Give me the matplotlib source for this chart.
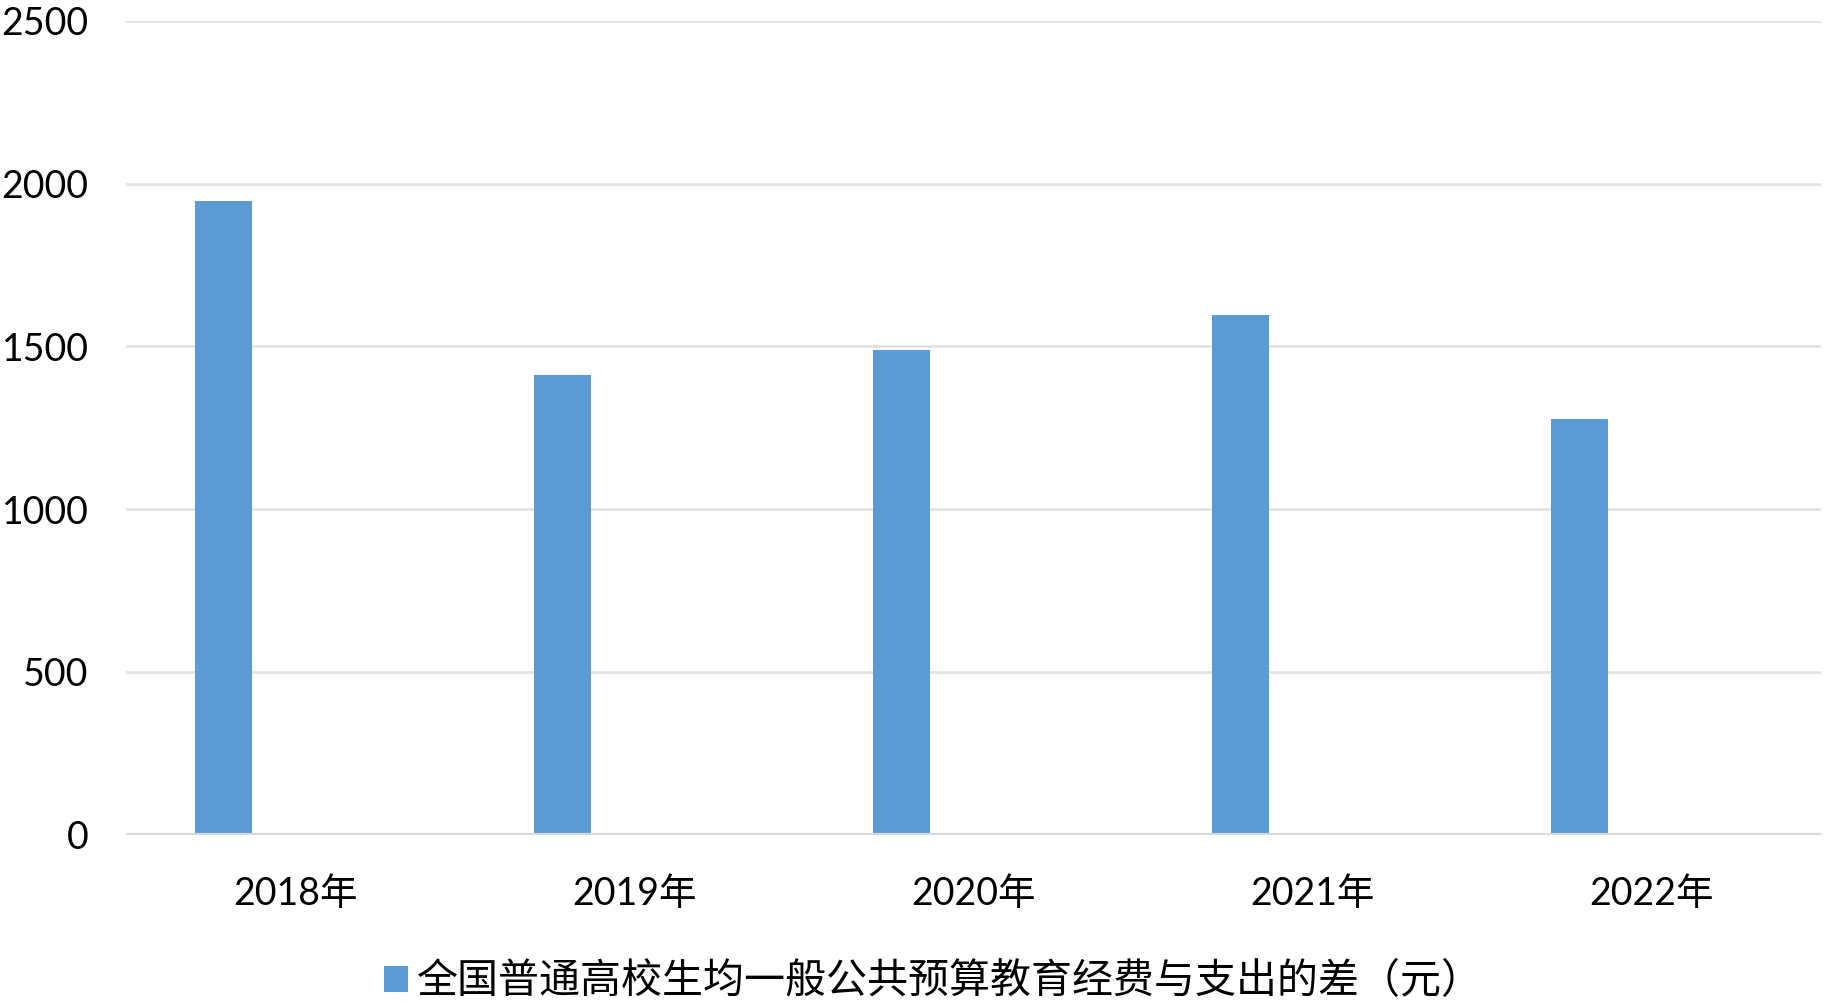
import matplotlib
matplotlib.use('Agg')
import matplotlib.pyplot as plt
import numpy as np

plt.rcParams['font.family'] = ['Lato', 'Noto Sans CJK SC', 'DejaVu Sans']

years = ['2018年', '2019年', '2020年', '2021年', '2022年']
diff = [1947, 1411, 1490, 1597, 1278]
series_name = '全国普通高校生均一般公共预算教育经费与支出的差（元）'

fig = plt.figure(figsize=(18.3, 10.05), dpi=100)
ax = fig.add_axes([126/1830, 1-834.5/1005, (1821-126)/1830, (834.5-21)/1005])

x = np.arange(len(years))
# bar sits left of the category centre (second, empty series on the right)
ax.bar(x - 0.212, diff, width=0.168, color='#5b9bd5', label=series_name, zorder=3)

ax.set_xlim(-0.5, len(years) - 0.5)
ax.set_ylim(0, 2500)
ax.set_yticks(np.arange(0, 2501, 500))
ax.yaxis.grid(True, color='#e3e3e3', linewidth=2, zorder=0)
ax.axhline(0, color='#d9d9d9', linewidth=3, zorder=4)

for s in ax.spines.values():
    s.set_visible(False)
ax.tick_params(axis='both', length=0, labelsize=27, colors='#000000')
ax.tick_params(axis='y', pad=27)
ax.tick_params(axis='x', pad=30)
ax.set_xticks(x)
ax.set_xticklabels(years)

leg = fig.legend(loc='center', bbox_to_anchor=(0.51, 1-982/1005), frameon=False,
                 handlelength=0.6, handleheight=0.6, handletextpad=0.2,
                 borderpad=0.2, prop={'family': ['Noto Sans CJK SC'], 'size': 29.5})

fig.savefig('out.png', dpi=100, facecolor='white')
